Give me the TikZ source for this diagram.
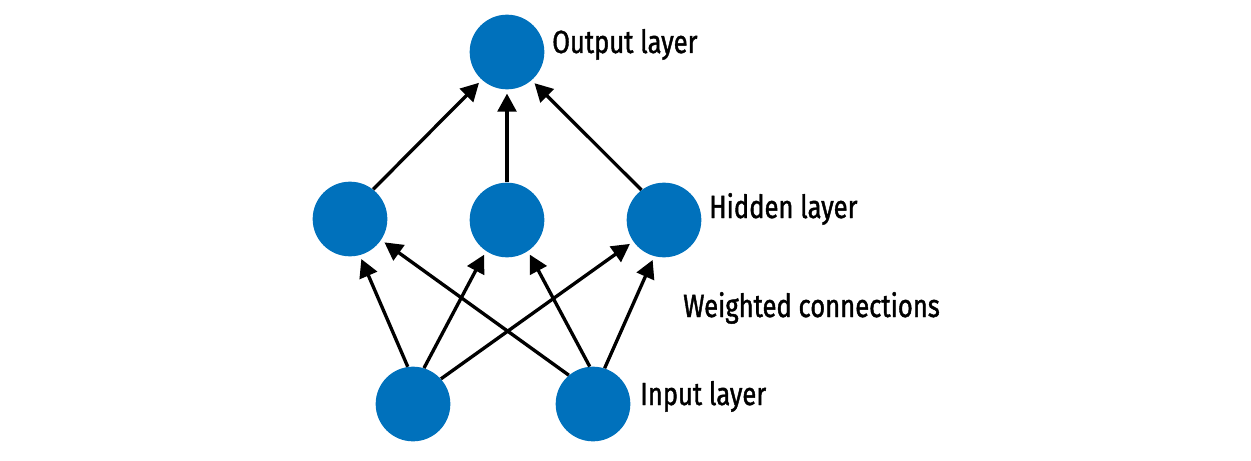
\documentclass[tikz,border=0pt]{standalone}
\usepackage{fontspec}
\setmainfont{Fira Sans}[FakeStretch=0.80,FakeBold=1.3]
\usetikzlibrary{arrows.meta}
\definecolor{nodeblue}{RGB}{0,113,188}
\begin{document}
\begin{tikzpicture}[x=0.75pt,y=-0.75pt,
  neuron/.style={circle,fill=nodeblue,draw=none,minimum size=56pt,inner sep=0pt},
  conn/.style={line width=2.5pt,-{Triangle[length=13.5pt,width=14pt]},shorten >=3pt},
  lbl/.style={anchor=base west,inner sep=0pt,font=\fontsize{24pt}{28pt}\selectfont}]
\useasboundingbox (0,0) rectangle (1251,460);
% neurons
\node[neuron] (out) at (507,52) {};
\node[neuron] (h1) at (350,219) {};
\node[neuron] (h2) at (507,220) {};
\node[neuron] (h3) at (664,220) {};
\node[neuron] (in1) at (413,404) {};
\node[neuron] (in2) at (593,404) {};
% input to hidden
\draw[conn] (in1.98) -- (h1.-75);
\draw[conn] (in1.73) -- (h2.-124);
\draw[conn] (in1.42) -- (h3.-145);
\draw[conn] (in2.130) -- (h1.-34);
\draw[conn] (in2.95) -- (h2.-56);
\draw[conn] (in2.72) -- (h3.-105);
% hidden to output
\draw[conn] (h1.52) -- (out.-132);
\draw[conn] (h2.90) -- (out.-90);
\draw[conn] (h3.127) -- (out.-49);
% labels
\node[lbl] (lout) at (552,53) {Output layer};
\node[lbl] (lhid) at (709,218) {Hidden layer};
\node[lbl] (lw) at (683,317) {Weighted connections};
\node[lbl] (lin) at (640,405) {Input layer};
\end{tikzpicture}
\end{document}
